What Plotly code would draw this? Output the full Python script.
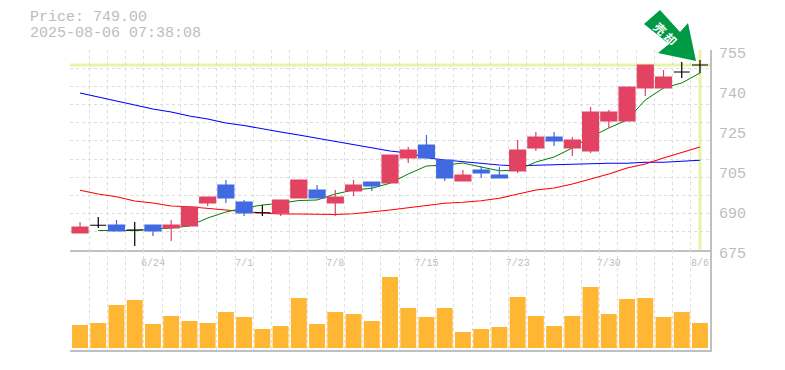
import plotly.graph_objects as go

# ---- data -------------------------------------------------------------
days = list(range(35))
date_tick_idx = [4, 9, 14, 19, 24, 29, 34]
date_tick_text = ["6/24", "7/1", "7/8", "7/15", "7/23", "7/30", "8/6"]
price_tick_vals = [755, 739, 723, 707, 691, 675]
price_tick_text = ["755", "740", "725", "705", "690", "675"]
last_price = 749.0
caption_price = "Price: 749.00"
caption_time = "2025-08-06 07:38:08"
marker_text = "売\u2009却"

opens = [681.8, 684.9, 685.0, 683.0, 685.0, 683.8, 684.6, 693.8, 701.0, 694.2, 689.9, 689.8,
         695.8, 699.0, 693.8, 698.6, 702.2, 701.8, 711.8, 717.0, 711.0, 702.6, 707.0, 705.0,
         706.6, 715.8, 720.2, 715.8, 714.6, 726.6, 726.6, 739.8, 739.8, 746.2, 749.0]
closes = [684.2, 684.9, 682.6, 683.0, 682.6, 685.0, 692.2, 696.2, 695.8, 689.8, 689.9, 695.0,
          703.0, 695.8, 696.2, 701.0, 700.6, 713.0, 715.0, 711.8, 703.8, 705.0, 705.8, 703.8,
          715.0, 720.2, 718.6, 719.0, 730.2, 730.2, 740.2, 749.0, 744.2, 746.2, 749.0]
highs = [686.2, 688.2, 687.0, 686.2, 685.0, 687.0, 692.2, 696.2, 703.0, 695.0, 693.0, 695.0,
         703.0, 701.0, 699.0, 703.0, 702.2, 713.0, 716.2, 721.0, 711.0, 707.0, 708.6, 708.2,
         719.0, 722.2, 722.2, 720.2, 732.2, 731.0, 740.2, 749.0, 747.0, 750.2, 751.0]
lows = [681.8, 683.8, 682.6, 676.6, 680.6, 678.6, 684.6, 692.6, 693.8, 688.6, 688.6, 688.6,
        695.8, 695.8, 688.6, 696.6, 698.6, 701.8, 709.8, 711.8, 702.6, 702.6, 703.8, 703.8,
        705.8, 714.6, 716.6, 712.6, 713.8, 723.8, 726.6, 736.6, 739.8, 743.8, 745.8]
ma_short = [None, 682.8, 682.8, 682.8, 683.4, 683.8, 684.6, 687.8, 690.2, 691.8, 693.0, 693.7,
            694.8, 695.0, 697.4, 699.0, 699.7, 701.7, 705.4, 708.6, 709.0, 709.8, 708.2, 706.7,
            707.0, 710.2, 712.2, 715.8, 720.2, 723.8, 727.0, 735.0, 739.8, 741.8, 745.8]
ma_mid = [698.9, 697.4, 696.3, 694.6, 693.8, 692.6, 692.3, 691.5, 691.0, 690.3, 689.8, 689.4,
          689.4, 689.3, 689.2, 689.5, 690.1, 691.0, 691.9, 692.9, 693.7, 694.1, 694.7, 695.7,
          697.3, 699.0, 699.8, 701.4, 703.4, 705.4, 707.8, 709.4, 711.8, 713.9, 716.2]
ma_long = [737.8, 736.2, 734.6, 733.0, 731.4, 730.2, 728.6, 727.4, 725.8, 724.8, 723.4, 722.2,
           721.0, 719.7, 718.3, 717.3, 715.9, 714.6, 713.8, 711.9, 711.0, 710.3, 709.7, 709.0,
           708.7, 708.9, 709.3, 709.3, 709.7, 709.7, 709.7, 710.1, 710.1, 710.6, 710.9]
volumes = [23, 25, 43, 48, 24, 32, 27, 25, 36, 31, 19, 22, 50, 24, 36, 34, 27, 71,
           40, 31, 40, 16, 19, 21, 51, 32, 22, 32, 61, 34, 49, 50, 31, 36, 25]

# ---- styles -----------------------------------------------------------
GREY = "#bdbdbd"
GRID = "#dddddd"
RED = "#e24363"
BLUE = "#4169e1"
ORANGE = "#ffb733"
LIME = "#e6f3a9"
ARROW = "#009944"
MONO = "Liberation Mono"
PAGE = 8  # browser's default body margin
W, H = 785 - PAGE, 370
L, R, T, B = 70, 710, 50, 350


def px(x):
    return (x - L) / (R - L)


def py(y):
    return (B - y) / (B - T)


def subset(test):
    idx = [i for i in days if test(opens[i], closes[i])]
    return dict(
        x=idx,
        open=[opens[i] for i in idx],
        high=[highs[i] for i in idx],
        low=[lows[i] for i in idx],
        close=[closes[i] for i in idx],
    )


fig = go.Figure()

# moving averages sit on the base subplot, candles on an overlay above them
for vals, col, w in [(ma_long, "#0000ff", 1.1), (ma_mid, "#ff0000", 1.1), (ma_short, "#008000", 1.0)]:
    fig.add_trace(go.Scatter(x=days, y=vals, mode="lines", line=dict(color=col, width=w), xaxis="x", yaxis="y"))

for test, col in [(lambda o, c: c > o, RED), (lambda o, c: c < o, BLUE), (lambda o, c: c == o, "#000000")]:
    fig.add_trace(go.Candlestick(
        **subset(test), xaxis="x", yaxis="y3", whiskerwidth=0,
        increasing=dict(line=dict(color=col, width=1.2), fillcolor=col),
        decreasing=dict(line=dict(color=col, width=1.2), fillcolor=col),
    ))

fig.add_trace(go.Bar(x=days, y=volumes, marker=dict(color=ORANGE, line=dict(width=0)), width=0.875, xaxis="x2", yaxis="y2"))

x_common = dict(
    range=[-0.55, 34.55], showgrid=False, zeroline=False, showline=True, linecolor="#c0c0c0", linewidth=2,
    minor=dict(tick0=-0.5, dtick=1, showgrid=True, gridcolor=GRID, griddash="3px,3px", gridwidth=1, ticks=""),
    rangeslider=dict(visible=False), ticks="", automargin=False,
)

price_range = [675, 755]
fig.update_layout(
    width=W, height=H, margin=dict(l=L - PAGE, r=W - (R - PAGE), t=T - PAGE, b=H - (B - PAGE)),
    paper_bgcolor="white", plot_bgcolor="white", showlegend=False, boxmode="overlay", boxgap=0.125, boxgroupgap=0,
    xaxis=dict(
        **x_common, domain=[0, 1], anchor="y", tickmode="array", tickvals=date_tick_idx, ticktext=date_tick_text,
        tickfont=dict(family=MONO, size=10, color=GREY), showticklabels=True, ticklabelstandoff=2,
    ),
    xaxis2=dict(**x_common, domain=[0, 1], anchor="y2", matches="x", showticklabels=False),
    yaxis=dict(
        domain=[1 / 3, 1], range=price_range, side="right", anchor="x", showgrid=False, zeroline=False,
        showline=True, linecolor="#c0c0c0", linewidth=2, ticks="", tickmode="array", automargin=False,
        tickvals=price_tick_vals, ticktext=price_tick_text, tickfont=dict(family=MONO, size=15, color=GREY),
        ticklabelshift=3, ticklabelstandoff=4,
        minor=dict(tick0=675, dtick=80 / 11, showgrid=True, gridcolor=GRID, griddash="3px,3px", gridwidth=1, ticks=""),
    ),
    yaxis2=dict(
        domain=[0, 1 / 3], range=[-2, 98], side="right", anchor="x2", showgrid=False, zeroline=False,
        showline=True, linecolor="#c0c0c0", linewidth=2, ticks="", showticklabels=False, automargin=False,
    ),
    yaxis3=dict(domain=[1 / 3, 1], range=price_range, overlaying="y", visible=False, anchor="x"),
    shapes=[
        dict(type="line", xref="x domain", yref="y", x0=0, x1=1, y0=last_price, y1=last_price,
             line=dict(color=LIME, width=3), layer="below"),
        dict(type="line", xref="x", yref="y domain", x0=days[-1], x1=days[-1], y0=0, y1=1,
             line=dict(color=LIME, width=3), layer="below"),
        dict(type="path", xref="paper", yref="paper", fillcolor=ARROW, line=dict(width=0), layer="above",
             path="M {} {} L {} {} L {} {} L {} {} L {} {} L {} {} L {} {} Z".format(
                 px(660), py(10), px(644), py(24), px(669), py(44), px(658), py(53),
                 px(696), py(61), px(688), py(23), px(680), py(32))),
    ],
    annotations=[
        dict(text=caption_price, xref="paper", yref="paper", x=px(28), y=py(18), xanchor="left", yanchor="middle",
             height=15, showarrow=False, font=dict(family=MONO, size=15, color=GREY)),
        dict(text=caption_time, xref="paper", yref="paper", x=px(28), y=py(33), xanchor="left", yanchor="middle",
             height=15, showarrow=False, font=dict(family=MONO, size=15, color=GREY)),
        dict(text=marker_text, xref="paper", yref="paper", x=px(666), y=py(33), xanchor="center", yanchor="middle",
             textangle=45, showarrow=False, font=dict(family="Noto Sans CJK JP", size=12, color="white", weight="bold")),
    ],
)

fig.write_html("out.html")
